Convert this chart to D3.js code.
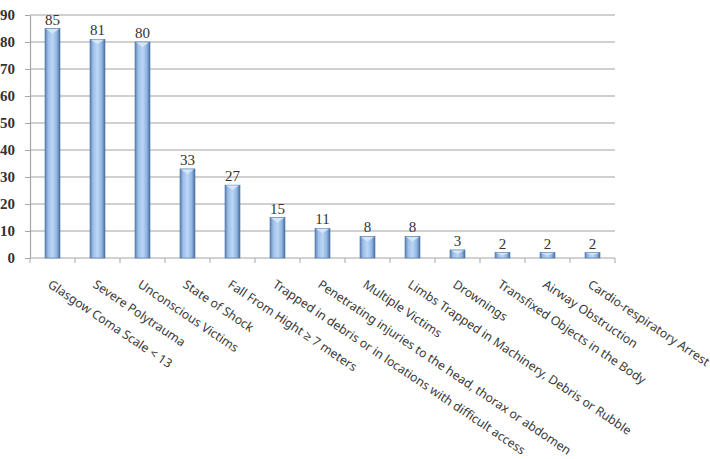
<!DOCTYPE html>
<html>
<head>
<meta charset="utf-8">
<script src="https://cdn.jsdelivr.net/npm/d3@7"></script>
<style>
  body { margin: 0; background: #fff; }
  svg { display: block; }
</style>
</head>
<body>
<svg id="chart" width="710" height="459"></svg>
<script>
const categories = [
  "Glasgow Coma Scale < 13",
  "Severe Polytrauma",
  "Unconscious Victims",
  "State of Shock",
  "Fall From  Hight \u2265 7 meters",
  "Trapped in debris or in locations with difficult access",
  "Penetrating injuries to the head, thorax or abdomen",
  "Multiple Victims",
  "Limbs Trapped in Machinery, Debris or Rubble",
  "Drownings",
  "Transfixed Objects in the Body",
  "Airway Obstruction",
  "Cardio-respiratory Arrest"
];
const values = [85, 81, 80, 33, 27, 15, 11, 8, 8, 3, 2, 2, 2];
const yTicks = [0, 10, 20, 30, 40, 50, 60, 70, 80, 90];

const svg = d3.select("#chart");
const plotLeft = 30, plotRight = 615, plotTop = 15, plotBottom = 258;

const x = d3.scaleBand().domain(categories).range([plotLeft, plotRight]).paddingInner(0).paddingOuter(0);
const y = d3.scaleLinear().domain([0, 90]).range([plotBottom, plotTop]);

// bar gradient
const defs = svg.append("defs");
const grad = defs.append("linearGradient").attr("id", "barGrad")
  .attr("x1", "0%").attr("x2", "100%").attr("y1", "0%").attr("y2", "0%");
grad.append("stop").attr("offset", "0%").attr("stop-color", "#5a82b3");
grad.append("stop").attr("offset", "22%").attr("stop-color", "#9fc1ea");
grad.append("stop").attr("offset", "50%").attr("stop-color", "#bcd6f5");
grad.append("stop").attr("offset", "78%").attr("stop-color", "#92b6e2");
grad.append("stop").attr("offset", "100%").attr("stop-color", "#4a6f9e");

// gridlines
svg.append("g").selectAll("line").data(yTicks.slice(1)).enter().append("line")
  .attr("x1", plotLeft).attr("x2", plotRight)
  .attr("y1", d => y(d)).attr("y2", d => y(d))
  .style("stroke", "#c0c0c0").style("stroke-width", "1.5px");

// y axis
const yAxis = svg.append("g").attr("transform", `translate(${plotLeft},0)`)
  .call(d3.axisLeft(y).tickValues(yTicks).tickSize(5).tickSizeOuter(0));
yAxis.select(".domain").style("stroke", "#a6a6a6").style("stroke-width", "1.2px");
yAxis.selectAll(".tick line").style("stroke", "#a6a6a6");
yAxis.selectAll("text")
  .attr("x", -15)
  .style("font-family", "'Liberation Serif', serif")
  .style("font-size", "15px")
  .style("font-weight", "bold")
  .style("fill", "#333");

// x axis line and tick marks at band boundaries
svg.append("line").attr("x1", plotLeft).attr("x2", plotRight).attr("y1", plotBottom).attr("y2", plotBottom)
  .style("stroke", "#a6a6a6").style("stroke-width", "1.2px");
const bounds = categories.map(c => x(c)).concat([plotRight]);
svg.append("g").selectAll("line").data(bounds).enter().append("line")
  .attr("x1", d => d).attr("x2", d => d)
  .attr("y1", plotBottom).attr("y2", plotBottom + 5)
  .style("stroke", "#a6a6a6");

// bars
const bw = 15;
const bars = svg.append("g");
bars.selectAll("rect").data(values).enter().append("rect")
  .attr("x", (d, i) => x(categories[i]) + x.bandwidth() / 2 - bw / 2)
  .attr("y", d => y(d))
  .attr("width", bw)
  .attr("height", d => plotBottom - y(d))
  .style("fill", "url(#barGrad)")
  .style("stroke", "#4f76a6")
  .style("stroke-width", "0.6px");

// top cap chevron
bars.selectAll("path").data(values).enter().append("path")
  .attr("d", (d, i) => {
    const cx = x(categories[i]) + x.bandwidth() / 2;
    const t = y(d);
    const h = Math.min(5, (plotBottom - t) / 2);
    return `M${cx - bw / 2 + 1},${t + 0.5} L${cx},${t + h} L${cx + bw / 2 - 1},${t + 0.5} Z`;
  })
  .style("fill", "#d8e8fa").style("opacity", 0.9);

// value labels
svg.append("g").selectAll("text").data(values).enter().append("text")
  .attr("x", (d, i) => x(categories[i]) + x.bandwidth() / 2)
  .attr("y", d => y(d) - 4)
  .attr("text-anchor", "middle")
  .style("font-family", "'Liberation Serif', serif")
  .style("font-size", "15px")
  .style("fill", "#333")
  .text(d => d);

// category labels
svg.append("g").selectAll("text").data(categories).enter().append("text")
  .attr("transform", d => `translate(${x(d) + x.bandwidth() / 2 - 3},${plotBottom + 25}) rotate(34)`)
  .attr("text-anchor", "start")
  .attr("dy", "0.35em")
  .style("font-family", "'Noto Sans', sans-serif")
  .style("font-size", "12.3px")
  .style("fill", "#3a3a3a")
  .text(d => d);
</script>
</body>
</html>
